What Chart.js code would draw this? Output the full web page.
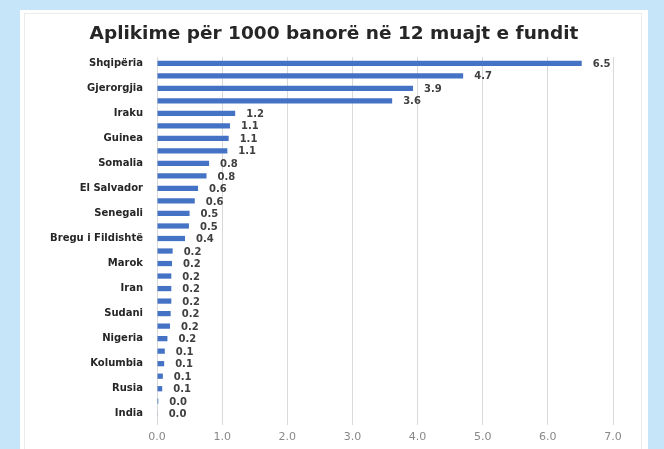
<!DOCTYPE html>
<html>
<head>
<meta charset="utf-8">
<script src="https://cdn.jsdelivr.net/npm/chart.js@4"></script>
<style>
  html, body { margin: 0; padding: 0; }
  body { width: 664px; height: 449px; background: #c7e5f8; position: relative; overflow: hidden; }
  #panel { position: absolute; left: 20px; top: 10px; width: 628px; height: 439px; background: #ffffff; }
  #frame { position: absolute; left: 4px; top: 3px; width: 616px; height: 460px; border: 1px solid #ececec; }
  #wrap { position: absolute; left: 0; top: 0; width: 628px; height: 439px; }
</style>
</head>
<body>
<div id="panel">
  <div id="frame"></div>
  <div id="wrap"><canvas id="c" width="628" height="439"></canvas></div>
</div>
<script>
const chartTitle = "Aplikime për 1000 banorë në 12 muajt e fundit";
const countries = [
  "Shqipëria", "", "Gjerorgjia", "", "Iraku", "", "Guinea", "", "Somalia", "",
  "El Salvador", "", "Senegali", "", "Bregu i Fildishtë", "", "Marok", "", "Iran", "",
  "Sudani", "", "Nigeria", "", "Kolumbia", "", "Rusia", "", "India"
];
const applicationsPer1000 = [
  6.52, 4.70, 3.93, 3.61, 1.20, 1.12, 1.10, 1.08, 0.80, 0.76,
  0.63, 0.58, 0.50, 0.49, 0.43, 0.24, 0.23, 0.22, 0.22, 0.22,
  0.21, 0.20, 0.16, 0.12, 0.11, 0.09, 0.08, 0.02, 0.01
];
const xTicks = [0, 1, 2, 3, 4, 5, 6, 7];

const valueLabels = {
  id: 'valueLabels',
  afterDatasetsDraw(chart) {
    const ctx = chart.ctx;
    const meta = chart.getDatasetMeta(0);
    ctx.save();
    ctx.font = 'bold 10px "DejaVu Sans"';
    ctx.fillStyle = '#404040';
    ctx.textAlign = 'left';
    ctx.textBaseline = 'middle';
    meta.data.forEach((bar, i) => {
      const v = chart.data.datasets[0].data[i];
      ctx.fillText(v.toFixed(1), bar.x + 11, bar.y + 1);
    });
    ctx.restore();
  }
};

const centeredTitle = {
  id: 'centeredTitle',
  afterDraw(chart) {
    const ctx = chart.ctx;
    ctx.save();
    ctx.font = 'bold 18.5px "DejaVu Sans"';
    ctx.fillStyle = '#262626';
    ctx.textAlign = 'center';
    ctx.textBaseline = 'middle';
    ctx.fillText(chartTitle, chart.width / 2, 24);
    ctx.restore();
  }
};

new Chart(document.getElementById('c'), {
  type: 'bar',
  data: {
    labels: countries,
    datasets: [{
      data: applicationsPer1000,
      backgroundColor: '#4472c4',
      borderWidth: 0,
      categoryPercentage: 1.0,
      barPercentage: 0.42
    }]
  },
  options: {
    indexAxis: 'y',
    responsive: false,
    animation: false,
    devicePixelRatio: 1,
    layout: { padding: { left: 0, right: 35, top: 47, bottom: 0 } },
    plugins: {
      legend: { display: false },
      tooltip: { enabled: false },
      title: { display: false }
    },
    scales: {
      y: {
        type: 'category',
        grid: { display: false, drawTicks: false },
        border: { display: false },
        afterFit(scale) { scale.width = 137; },
        ticks: {
          autoSkip: false,
          padding: 14,
          color: '#262626',
          font: { family: 'DejaVu Sans', size: 10, weight: 'bold' }
        }
      },
      x: {
        min: 0,
        max: 7,
        afterBuildTicks(scale) { scale.ticks = xTicks.map(v => ({ value: v })); },
        afterFit(scale) { scale.height = 29; },
        grid: { color: '#d9d9d9', lineWidth: 1, drawTicks: true, tickLength: 5 },
        border: { display: false },
        ticks: {
          padding: 6,
          color: '#888888',
          font: { family: 'DejaVu Sans', size: 11 },
          callback: (v) => Number(v).toFixed(1)
        }
      }
    }
  },
  plugins: [valueLabels, centeredTitle]
});
</script>
</body>
</html>
